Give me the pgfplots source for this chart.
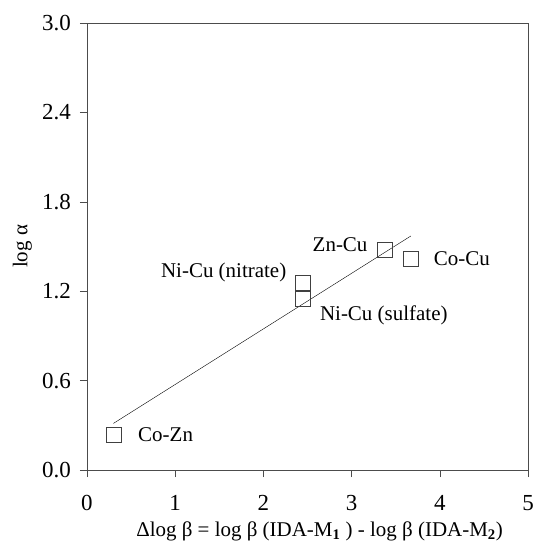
\documentclass[border=0pt]{standalone}
\usepackage{pgfplots}
\pgfplotsset{compat=1.18}
\usepackage{fontspec}
\setmainfont{Liberation Serif}
\begin{document}
\fontsize{21}{24}\selectfont
\begin{tikzpicture}
\begin{axis}[
  scale only axis,
  width=442pt, height=448pt,
  xmin=0, xmax=5, ymin=0, ymax=3.0,
  xtick={0,1,2,3,4,5},
  ytick={0,0.6,1.2,1.8,2.4,3.0},
  yticklabel style={/pgf/number format/fixed,/pgf/number format/fixed zerofill,/pgf/number format/precision=1},
  /pgf/number format/assume math mode=true,
  tick align=outside,
  xtick pos=bottom, ytick pos=left,
  major tick length=7pt,
  tick style={black!70, thin},
  axis line style={black!70, thin},
  xlabel={Δlog β = log β (IDA-M\textsubscript{\textbf{1}} ) - log β (IDA-M\textsubscript{\textbf{2}})},
  ylabel={log α},
  every axis label/.append style={font=\fontsize{21}{24}\selectfont},
  ticklabel style={font=\fontsize{23}{26}\selectfont},
  xticklabel style={yshift=-11pt},
  yticklabel style={xshift=-2pt},
  xlabel style={yshift=3pt, xshift=12pt},
  ylabel style={yshift=-4pt},
  clip=false,
]
\addplot[black, thin] coordinates {(0.30,0.313) (3.67,1.57)};
\addplot[only marks, mark=square, mark size=7.5pt, mark options={black!75, thin}] coordinates {
  (0.30,0.235) (3.37,1.475) (3.67,1.418) (2.44,1.257) (2.44,1.15)
};
\node[anchor=west] at (axis cs:0.50,0.235) {Co-Zn};
\node[anchor=east] at (axis cs:3.26,1.51) {Zn-Cu};
\node[anchor=west] at (axis cs:3.85,1.418) {Co-Cu};
\node[anchor=east] at (axis cs:2.34,1.325) {Ni-Cu (nitrate)};
\node[anchor=west] at (axis cs:2.56,1.04) {Ni-Cu (sulfate)};
\coordinate (bl) at (rel axis cs:-0.197,-0.172);
\coordinate (tr) at (rel axis cs:1.011,1.051);
\end{axis}
\pgfresetboundingbox
\useasboundingbox (bl) rectangle (tr);
\end{tikzpicture}
\end{document}
